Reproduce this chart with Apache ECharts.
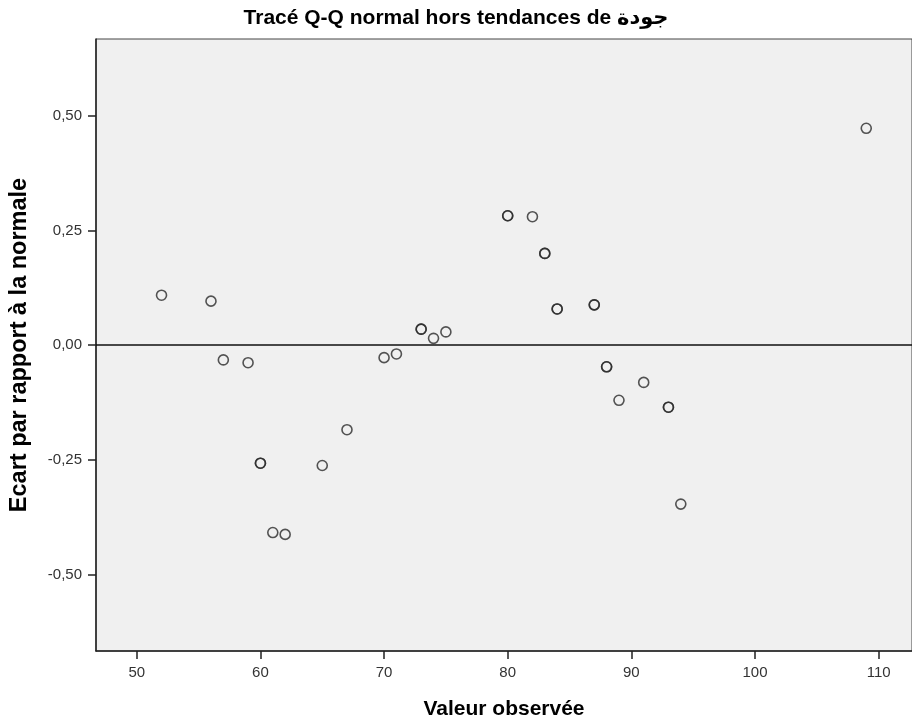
<!DOCTYPE html>
<html>
<head>
<meta charset="utf-8">
<script src="https://cdn.jsdelivr.net/npm/echarts@6/dist/echarts.min.js"></script>
<style>
  html, body { margin: 0; padding: 0; background: #fff; }
  #chart { width: 912px; height: 726px; }
</style>
</head>
<body>
<div id="chart"></div>
<script>
// observed values (duplicates = repeated observations, drawn bold in the original)
const observed = [52, 56, 57, 59, 60, 60, 61, 62, 65, 67, 70, 71, 73, 73, 74, 75,
  80, 80, 82, 83, 83, 84, 84, 87, 87, 88, 88, 89, 91, 93, 93, 94, 109]
const deviation = [0.109, 0.096, -0.032, -0.038, -0.257, -0.257, -0.408, -0.412, -0.262, -0.184,
  -0.027, -0.019, 0.035, 0.035, 0.015, 0.029,
  0.282, 0.282, 0.280, 0.200, 0.200, 0.079, 0.079, 0.088, 0.088, -0.047, -0.047,
  -0.120, -0.081, -0.135, -0.135, -0.346, 0.4725]
const xTicks = [50, 60, 70, 80, 90, 100, 110]
const yTicks = [-0.5, -0.25, 0, 0.25, 0.5]

const font = '"Liberation Sans", Arial, "DejaVu Sans", sans-serif'
const points = observed.map((x, i) => [x, deviation[i]])

const chart = echarts.init(document.getElementById('chart'))
chart.setOption({
  animation: false,
  title: {
    text: 'Tracé Q-Q normal hors tendances de جودة',
    left: 'center',
    top: 8,
    padding: 0,
    textStyle: { fontFamily: font, fontSize: 21, fontWeight: 'bold', color: '#000' }
  },
  grid: {
    left: 96,
    top: 39,
    right: 0,
    bottom: 75,
    show: true,
    backgroundColor: '#f0f0f0',
    borderColor: '#444',
    borderWidth: 1
  },
  xAxis: {
    type: 'value',
    min: 46.7,
    max: 112.7,
    name: 'Valeur observée',
    nameLocation: 'middle',
    nameGap: 48,
    nameTextStyle: { fontFamily: font, fontSize: 21, fontWeight: 'bold', color: '#000' },
    axisLine: { show: true, onZero: false, lineStyle: { color: '#222', width: 1.5 } },
    axisTick: { show: true, length: 8, lineStyle: { color: '#222', width: 1.5 }, customValues: xTicks },
    axisLabel: { customValues: xTicks, fontFamily: font, fontSize: 15, color: '#333', margin: 14 },
    splitLine: { show: false }
  },
  yAxis: {
    type: 'value',
    min: -0.666,
    max: 0.667,
    name: 'Ecart par rapport à la normale',
    nameLocation: 'middle',
    nameGap: 64,
    nameTextStyle: { fontFamily: font, fontSize: 23.5, fontWeight: 'bold', color: '#000' },
    axisLine: { show: true, onZero: false, lineStyle: { color: '#222', width: 1.5 } },
    axisTick: { show: true, length: 8, lineStyle: { color: '#222', width: 1.5 }, customValues: yTicks },
    axisLabel: {
      customValues: yTicks,
      fontFamily: font,
      fontSize: 15,
      color: '#333',
      margin: 14,
      formatter: v => v.toFixed(2).replace('.', ',')
    },
    splitLine: { show: false }
  },
  series: [
    {
      type: 'scatter',
      data: points,
      symbol: 'circle',
      symbolSize: 10,
      itemStyle: { color: 'rgba(240,240,240,0)', borderColor: '#2a2a2a', borderWidth: 1.6 },
      markLine: {
        silent: true,
        symbol: 'none',
        label: { show: false },
        lineStyle: { color: '#111', width: 1.5, type: 'solid' },
        data: [{ yAxis: 0 }]
      }
    }
  ]
})
</script>
</body>
</html>
